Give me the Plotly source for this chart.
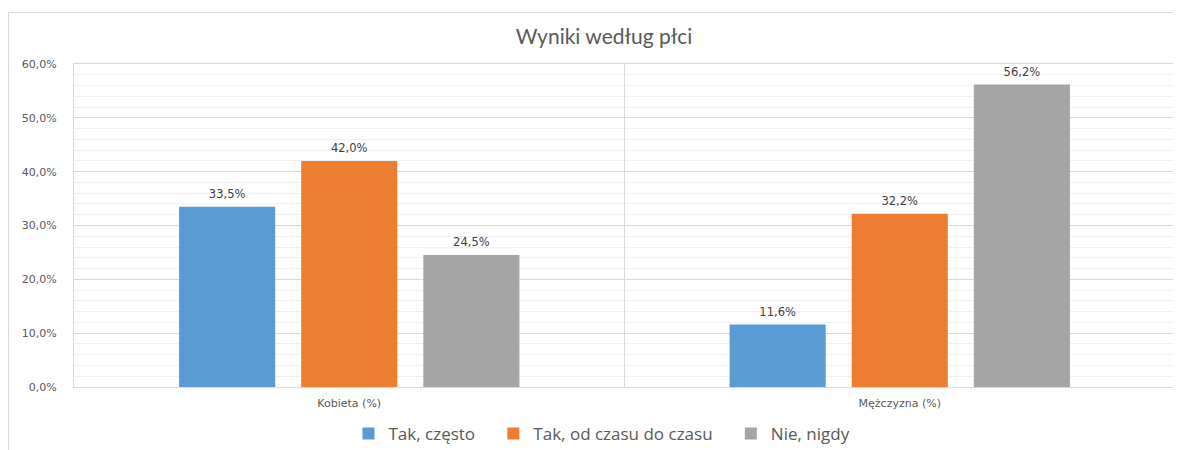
import plotly.graph_objects as go

categories = ["Kobieta (%)", "Mężczyzna (%)"]
series_names = ["Tak, często", "Tak, od czasu do czasu", "Nie, nigdy"]
tak_czesto = [33.5, 11.6]
tak_czasem = [42.0, 32.2]
nie_nigdy = [24.5, 56.2]
colors = ["#5b9bd5", "#ed7d31", "#a5a5a5"]

# page has an 8px body margin -> figure is drawn 8px in from the top-left
W, H = 1173, 442
L, R, T, B = 66, 6, 56, 63
pw = W - L - R
ph = H - T - B
def px_x(x):
    return (x - L) / pw
def px_y(y):
    return (H - B - y) / ph

BARGAP = 0.3345
fig = go.Figure()
series = [tak_czesto, tak_czasem, nie_nigdy]
for name, vals, col in zip(series_names, series, colors):
    fig.add_trace(go.Bar(
        x=categories, y=vals, name=name + "\u00a0\u00a0\u00a0",
        marker=dict(color=col, line=dict(width=0)),
        hoverinfo="skip",
    ))
for name, vals in zip(series_names, series):
    fig.add_trace(go.Scatter(
        x=categories, y=vals, mode="markers+text", showlegend=False,
        marker=dict(size=8, opacity=0),
        text=[f"{v:.1f}".replace(".", ",") + "%" for v in vals],
        textposition="top center", cliponaxis=False,
        textfont=dict(family="DejaVu Sans", size=11.5, color="#404040"),
        hoverinfo="skip",
    ))

fig.update_layout(
    width=W, height=H,
    margin=dict(l=L, r=R, t=T, b=B, autoexpand=False),
    paper_bgcolor="white", plot_bgcolor="white",
    separators=", ",
    barmode="group", bargap=BARGAP, bargroupgap=0.213,
    scattermode="group", scattergap=BARGAP,
    title=dict(text="Wyniki według płci", x=596 / W, xanchor="center",
               y=1 - 29 / H, yanchor="middle",
               font=dict(family="Lato", size=21, color="#595959")),
    legend=dict(orientation="h", x=0.485, xanchor="center", y=px_y(426), yanchor="middle",
                font=dict(family="Open Sans", size=17, color="#595959"),
                itemwidth=30, tracegroupgap=0, traceorder="normal"),
    xaxis=dict(type="category", tickson="boundaries", showgrid=True, gridcolor="#d9d9d9",
               gridwidth=1, showline=True, linecolor="#d9d9d9", mirror=True, ticks="",
               ticklabelstandoff=6,
               tickfont=dict(family="DejaVu Sans", size=11, color="#595959"),
               range=[-0.5, 1.5]),
    yaxis=dict(range=[0, 60], dtick=10, tickformat=".1f", ticksuffix="%",
               showgrid=True, gridcolor="#d9d9d9", gridwidth=1,
               showline=True, linecolor="#d9d9d9", mirror=True, zeroline=False,
               ticklabelstandoff=14,
               tickfont=dict(family="DejaVu Sans", size=11, color="#595959"),
               minor=dict(dtick=2, showgrid=True, gridcolor="#f0f0f0", gridwidth=1)),
    shapes=[
        dict(type="line", xref="paper", yref="paper",
             x0=px_x(0.5), x1=px_x(W + 5), y0=px_y(4.5), y1=px_y(4.5),
             line=dict(color="#d9d9d9", width=1)),
        dict(type="line", xref="paper", yref="paper",
             x0=px_x(0.5), x1=px_x(0.5), y0=px_y(4.5), y1=px_y(H + 10),
             line=dict(color="#d9d9d9", width=1)),
    ],
)

fig.write_html("out.html")
